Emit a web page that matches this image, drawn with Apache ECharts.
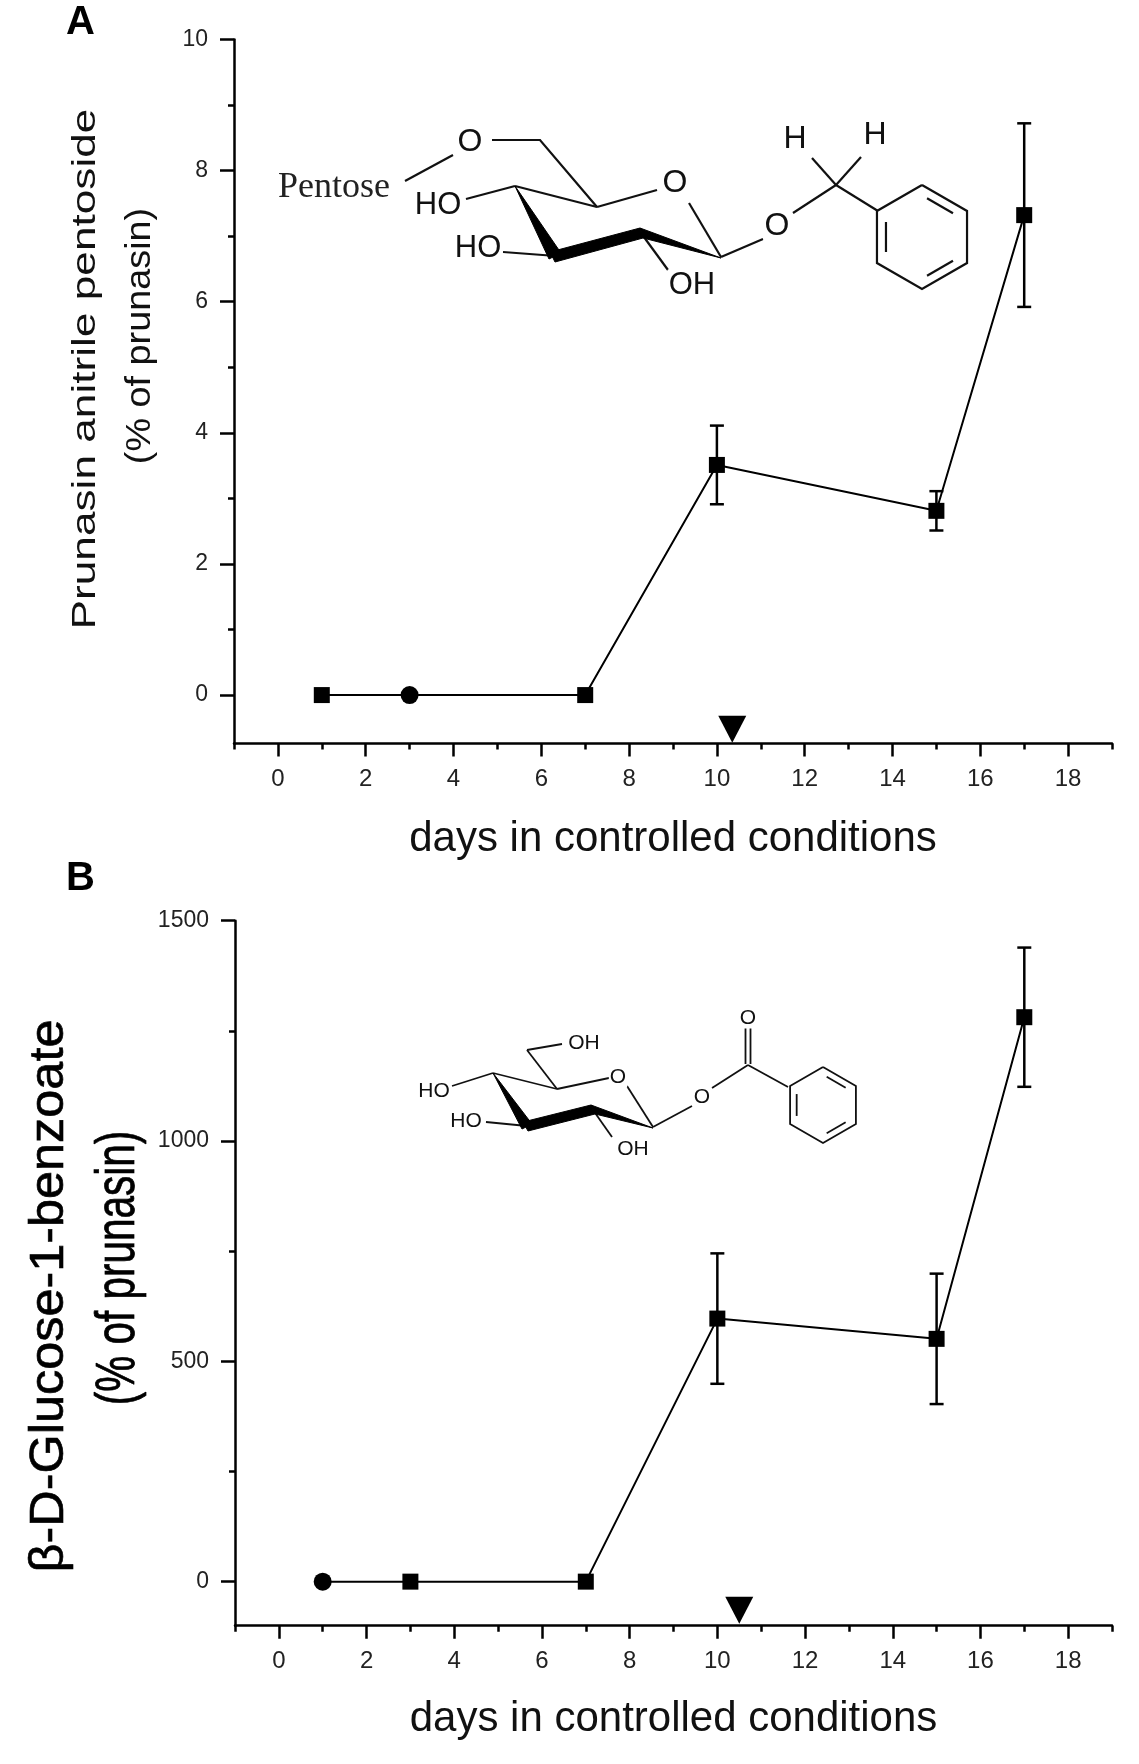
<!DOCTYPE html>
<html>
<head>
<meta charset="utf-8">
<script src="https://cdn.jsdelivr.net/npm/echarts@6/dist/echarts.min.js"></script>
<style>
html,body{margin:0;padding:0;background:#fff;}
#chart{width:1139px;height:1764px;}
</style>
</head>
<body>
<div id="chart"></div>
<script>
// ---------- data ----------
const daysA = [1, 3, 7, 10, 15, 17];
const valuesA = [0, 0, 0, 3.51, 2.81, 7.32];
const errA = [0, 0, 0, 0.6, 0.3, 1.4];
const arrowA = [[10.35, -0.52]];

const daysB = [1, 3, 7, 10, 15, 17];
const valuesB = [0, 0, 0, 597, 551, 1281];
const errB = [0, 0, 0, 148, 148, 158];
const arrowB = [[10.5, -65]];

const xMajor = [0, 2, 4, 6, 8, 10, 12, 14, 16, 18];
const xMinor = [-1, 1, 3, 5, 7, 9, 11, 13, 15, 17, 19];
const yMajorA = [0, 2, 4, 6, 8, 10];
const yMinorA = [1, 3, 5, 7, 9];
const yMajorB = [0, 500, 1000, 1500];
const yMinorB = [250, 750, 1250];

const xTitle = 'days in controlled conditions';
const yTitleA = ['Prunasin anitrile pentoside', '(% of prunasin)'];
const yTitleB = ['β-D-Glucose-1-benzoate', '(% of prunasin)'];

// ---------- helpers ----------
const FONT = "'Liberation Sans', Arial, Helvetica, sans-serif";
const chart = echarts.init(document.getElementById('chart'), null, {renderer: 'canvas'});

function mainX(grid, name, gap) {
  return {
    type: 'value', gridIndex: grid, min: -1, max: 19, position: 'bottom',
    axisLine: {show: true, onZero: false, lineStyle: {color: '#000', width: 2.5}},
    axisTick: {show: true, customValues: xMajor, length: 13, lineStyle: {color: '#000', width: 2.5}},
    axisLabel: {show: true, customValues: xMajor, margin: 24, fontSize: 24, color: '#222', fontFamily: FONT,
      formatter: function (v) { return String(v); }},
    splitLine: {show: false},
    name: name, nameLocation: 'middle', nameGap: gap,
    nameTextStyle: {fontSize: 42, color: '#111', fontFamily: FONT}
  };
}
function minorX(grid) {
  return {
    type: 'value', gridIndex: grid, min: -1, max: 19, position: 'bottom',
    axisLine: {show: false, onZero: false},
    axisTick: {show: true, customValues: xMinor, length: 6, lineStyle: {color: '#000', width: 2.5}},
    axisLabel: {show: false}, splitLine: {show: false}
  };
}
function mainY(grid, min, max, major) {
  return {
    type: 'value', gridIndex: grid, min: min, max: max, position: 'left',
    axisLine: {show: true, onZero: false, lineStyle: {color: '#000', width: 2.5}},
    axisTick: {show: true, customValues: major, length: 14, lineStyle: {color: '#000', width: 2.5}},
    axisLabel: {show: true, customValues: major, margin: 26, fontSize: 23, color: '#222', fontFamily: FONT,
      formatter: function (v) { return String(v); }},
    splitLine: {show: false}
  };
}
function minorY(grid, min, max, minor) {
  return {
    type: 'value', gridIndex: grid, min: min, max: max, position: 'left',
    axisLine: {show: false, onZero: false},
    axisTick: {show: true, customValues: minor, length: 6, lineStyle: {color: '#000', width: 2.5}},
    axisLabel: {show: false}, splitLine: {show: false}
  };
}

function lineSeries(xi, yi, days, vals, circleIdx) {
  return {
    type: 'line', xAxisIndex: xi, yAxisIndex: yi, z: 3,
    data: days.map((d, i) => (i === circleIdx
      ? {value: [d, vals[i]], symbol: 'circle', symbolSize: 18}
      : {value: [d, vals[i]], symbol: 'rect', symbolSize: 16})),
    showSymbol: true,
    itemStyle: {color: '#000', opacity: 1},
    lineStyle: {color: '#000', width: 2},
    animation: false
  };
}
function errSeries(xi, yi, days, vals, errs) {
  const data = [];
  days.forEach((d, i) => { if (errs[i] > 0) data.push([d, vals[i] - errs[i], vals[i] + errs[i]]); });
  return {
    type: 'custom', xAxisIndex: xi, yAxisIndex: yi, z: 2, encode: {x: 0, y: [1, 2]},
    data: data, animation: false,
    renderItem: function (params, api) {
      const x = api.value(0);
      const lo = api.coord([x, api.value(1)]);
      const hi = api.coord([x, api.value(2)]);
      const hw = 7;
      const st = {stroke: '#000', lineWidth: 2.5};
      return {type: 'group', children: [
        {type: 'line', shape: {x1: hi[0], y1: hi[1], x2: lo[0], y2: lo[1]}, style: st},
        {type: 'line', shape: {x1: hi[0] - hw, y1: hi[1], x2: hi[0] + hw, y2: hi[1]}, style: st},
        {type: 'line', shape: {x1: lo[0] - hw, y1: lo[1], x2: lo[0] + hw, y2: lo[1]}, style: st}
      ]};
    }
  };
}
function arrowSeries(xi, yi, pts) {
  return {
    type: 'scatter', xAxisIndex: xi, yAxisIndex: yi, z: 4, data: pts,
    symbol: 'triangle', symbolRotate: 180, symbolSize: [28, 27],
    itemStyle: {color: '#000', opacity: 1}, animation: false
  };
}

// ---------- chemical structure drawings (decoration) ----------
const G = [];
function ln(pts, w) {
  G.push({type: 'polyline', shape: {points: pts}, style: {stroke: '#111', lineWidth: w || 2.2, fill: null}, silent: true});
}
function poly(pts) {
  G.push({type: 'polygon', shape: {points: pts}, style: {fill: '#000', stroke: '#000', lineWidth: 1}, silent: true});
}
function lbl(x, y, t, size, fam) {
  G.push({type: 'text', x: x, y: y, silent: true, z: 10,
    style: {text: t, fontSize: size, fontFamily: fam || FONT, fill: '#111', align: 'center', verticalAlign: 'middle',
      backgroundColor: '#fff', padding: [0, 1]}});
}
function benzene(cx, cy, r, w) {
  const v = [];
  for (let k = 0; k < 6; k++) {
    const a = (-90 + 60 * k) * Math.PI / 180;
    v.push([cx + r * Math.cos(a), cy + r * Math.sin(a)]);
  }
  ln(v.concat([v[0]]), w);
  [[0, 1], [2, 3], [4, 5]].forEach(function (e) {
    const p = v[e[0]], q = v[e[1]];
    const f = 0.2;
    const p2 = [p[0] + (cx - p[0]) * f, p[1] + (cy - p[1]) * f];
    const q2 = [q[0] + (cx - q[0]) * f, q[1] + (cy - q[1]) * f];
    const t = 0.14;
    ln([[p2[0] + (q2[0] - p2[0]) * t, p2[1] + (q2[1] - p2[1]) * t],
        [q2[0] + (p2[0] - q2[0]) * t, q2[1] + (p2[1] - q2[1]) * t]], w);
  });
}

// Structure A: benzyl pentosyl-glucoside
ln([[405, 181], [453, 155]]);
ln([[492, 140], [540, 140], [597, 207]]);
ln([[515, 186], [597, 207]]);
ln([[597, 207], [657, 190]]);
ln([[689, 203], [721, 257]]);
ln([[466, 199], [515, 186]]);
ln([[503, 252], [556, 256]]);
ln([[641, 233], [668, 270]]);
ln([[721, 257], [763, 239]]);
ln([[793, 213], [836, 185]]);
ln([[836, 185], [812, 158]]);
ln([[836, 185], [861, 157]]);
ln([[836, 185], [878, 211]]);
poly([[515, 186], [549, 259], [561, 253]]);
poly([[550, 252], [640, 228], [643, 238], [555, 262]]);
poly([[640, 228], [643, 238], [721, 258]]);
benzene(922, 237, 52, 2.2);
lbl(470, 142, 'O', 32);
lbl(438, 205, 'HO', 31);
lbl(675, 183, 'O', 32);
lbl(478, 248, 'HO', 31);
lbl(692, 285, 'OH', 31);
lbl(777, 226, 'O', 32);
lbl(795, 139, 'H', 32);
lbl(875, 135, 'H', 32);
G.push({type: 'text', x: 278, y: 188, silent: true, z: 10,
  style: {text: 'Pentose', fontSize: 36, fontFamily: "'Liberation Serif', 'Times New Roman', serif", fill: '#222',
    align: 'left', verticalAlign: 'middle'}});

// Structure B: beta-D-glucose-1-benzoate
ln([[452, 1086], [493, 1073]], 1.8);
ln([[493, 1073], [557, 1089]], 1.8);
ln([[557, 1089], [527, 1050]], 1.8);
ln([[527, 1050], [562, 1044]], 1.8);
ln([[557, 1089], [609, 1078]], 1.8);
ln([[627, 1086], [653, 1127]], 1.8);
ln([[486, 1122], [527, 1126]], 1.8);
ln([[593, 1110], [612, 1137]], 1.8);
ln([[653, 1127], [692, 1106]], 1.8);
ln([[712, 1088], [748, 1065]], 1.8);
ln([[745.5, 1064], [745.5, 1028]], 1.8);
ln([[750.5, 1064], [750.5, 1028]], 1.8);
ln([[748, 1065], [788, 1087]], 1.8);
poly([[493, 1073], [522, 1129], [532, 1124]]);
poly([[523, 1122], [591, 1105], [595, 1114], [528, 1131]]);
poly([[591, 1105], [595, 1114], [653, 1128]]);
benzene(823, 1105, 38, 1.8);
lbl(434, 1091, 'HO', 21);
lbl(584, 1043, 'OH', 21);
lbl(618, 1077, 'O', 21);
lbl(466, 1121, 'HO', 21);
lbl(633, 1149, 'OH', 21);
lbl(702, 1097, 'O', 21);
lbl(748, 1018, 'O', 21);

// Panel letters and rotated y titles
G.push({type: 'text', x: 66, y: 23, silent: true,
  style: {text: 'A', fontSize: 40, fontWeight: 'bold', fontFamily: FONT, fill: '#000', align: 'left', verticalAlign: 'middle'}});
G.push({type: 'text', x: 66, y: 879, silent: true,
  style: {text: 'B', fontSize: 40, fontWeight: 'bold', fontFamily: FONT, fill: '#000', align: 'left', verticalAlign: 'middle'}});
G.push({type: 'text', x: 86, y: 369, rotation: Math.PI / 2, scaleX: 1.3, silent: true,
  style: {text: yTitleA[0], fontSize: 34, fontFamily: FONT, fill: '#111', align: 'center', verticalAlign: 'middle'}});
G.push({type: 'text', x: 140, y: 336, rotation: Math.PI / 2, scaleX: 1.08, silent: true,
  style: {text: yTitleA[1], fontSize: 35, fontFamily: FONT, fill: '#111', align: 'center', verticalAlign: 'middle'}});
G.push({type: 'text', x: 50, y: 1296, rotation: Math.PI / 2, scaleX: 1.12, scaleY: 1.05, silent: true,
  style: {text: yTitleB[0], fontSize: 45, fontFamily: FONT, fill: '#000', align: 'center', verticalAlign: 'middle',
    stroke: '#000', lineWidth: 0.6}});
G.push({type: 'text', x: 119, y: 1268, rotation: Math.PI / 2, scaleX: 0.9, scaleY: 1.22, silent: true,
  style: {text: yTitleB[1], fontSize: 45, fontFamily: FONT, fill: '#000', align: 'center', verticalAlign: 'middle',
    stroke: '#000', lineWidth: 0.6}});

const option = {
  backgroundColor: '#fff',
  animation: false,
  grid: [
    {left: 234, top: 39.4, width: 878, height: 704, containLabel: false},
    {left: 235, top: 920.7, width: 877, height: 705, containLabel: false}
  ],
  xAxis: [mainX(0, xTitle, 75), minorX(0), mainX(1, xTitle, 73), minorX(1)],
  yAxis: [mainY(0, -0.737, 10, yMajorA), minorY(0, -0.737, 10, yMinorA),
          mainY(1, -100, 1500, yMajorB), minorY(1, -100, 1500, yMinorB)],
  series: [
    errSeries(0, 0, daysA, valuesA, errA),
    lineSeries(0, 0, daysA, valuesA, 1),
    arrowSeries(0, 0, arrowA),
    errSeries(2, 2, daysB, valuesB, errB),
    lineSeries(2, 2, daysB, valuesB, 0),
    arrowSeries(2, 2, arrowB)
  ],
  graphic: G
};
chart.setOption(option);
</script>
</body>
</html>
